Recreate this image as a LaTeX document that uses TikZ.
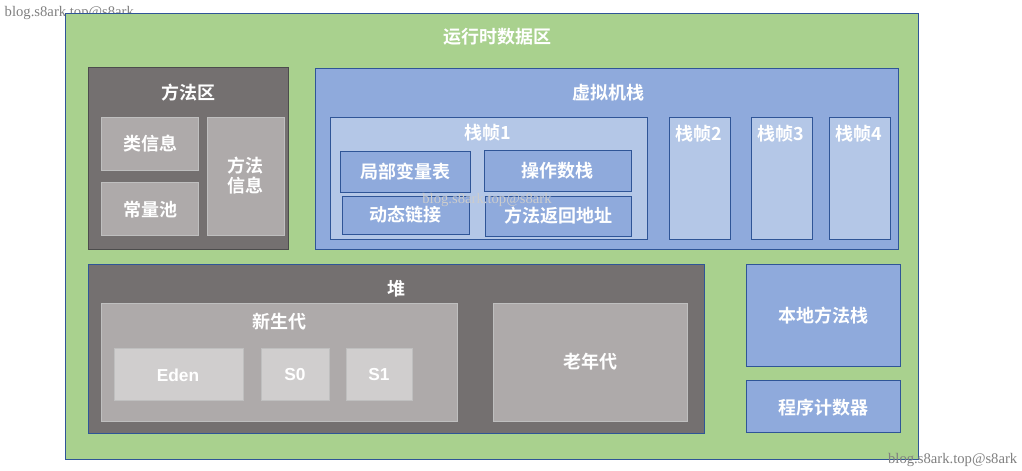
\documentclass[tikz,border=0pt]{standalone}
\usepackage{fontspec}
\setmainfont{Liberation Serif}
\newfontfamily\cjk{Noto Sans CJK SC}[BoldFont={* Bold}]
\newfontfamily\lat{Liberation Sans}
\definecolor{grn}{HTML}{A9D18E}
\definecolor{dgr}{HTML}{747070}
\definecolor{mgr}{HTML}{AEAAAA}
\definecolor{lgr}{HTML}{D0CECE}
\definecolor{blu}{HTML}{8FAADC}
\definecolor{lbl}{HTML}{B4C7E7}
\definecolor{edg}{HTML}{2F5597}
\tikzset{
 bx/.style={draw=edg,line width=0.7pt},
 tl/.style={text=white,font=\cjk\bfseries\fontsize{13.5}{15}\selectfont},
 wm/.style={text=gray,font=\fontsize{11}{12}\selectfont}
}
\begin{document}
\begin{tikzpicture}[x=0.75pt,y=-0.75pt]
\useasboundingbox (0,0) rectangle (1022,471);
\fill[white] (0,0) rectangle (1022,471);
\node[wm,anchor=west] (w1) at (0,13) {blog.s8ark.top@s8ark};
\draw[bx,fill=grn] (65,13) rectangle (918,459);
\node[tl] (t0) at (497,37) {运行时数据区};
% method area
\draw[draw=black!70,fill=dgr] (88,67) rectangle (288,249);
\node[tl] (t1) at (188,93) {方法区};
\draw[draw=gray!50,fill=mgr] (101,117) rectangle (198,170);
\node[tl] (a1) at (150,144) {类信息};
\draw[draw=gray!50,fill=mgr] (101,182) rectangle (198,235);
\node[tl] (a2) at (150,210) {常量池};
\draw[draw=gray!50,fill=mgr] (207,117) rectangle (284,235);
\node[tl,align=center] (a3) at (245,176) {方法\\信息};
% VM stack
\draw[bx,fill=blu] (315,68) rectangle (898,249);
\node[tl] (t2) at (608,93) {虚拟机栈};
\draw[bx,fill=lbl] (330,117) rectangle (647,239);
\node[tl] (f1) at (488,133) {栈帧1};
\draw[bx,fill=blu] (340,151) rectangle (470,192);
\node[tl] (b1) at (405,172) {局部变量表};
\draw[bx,fill=blu] (484,150) rectangle (631,191);
\node[tl] (b2) at (557,171) {操作数栈};
\draw[bx,fill=blu] (342,196) rectangle (469,234);
\node[tl] (b3) at (405,215) {动态链接};
\draw[bx,fill=blu] (485,196) rectangle (631,236);
\node[tl] (b4) at (558,216) {方法返回地址};
\node[wm,text=gray!40] (w2) at (487,200) {blog.s8ark.top@s8ark};
\draw[bx,fill=lbl] (669,117) rectangle (730,239);
\node[tl] (f2) at (699,134) {栈帧2};
\draw[bx,fill=lbl] (751,117) rectangle (812,239);
\node[tl] (f3) at (781,134) {栈帧3};
\draw[bx,fill=lbl] (829,117) rectangle (890,239);
\node[tl] (f4) at (859,134) {栈帧4};
% heap
\draw[bx,fill=dgr] (88,264) rectangle (704,433);
\node[tl] (t3) at (396,289) {堆};
\draw[draw=gray!50,fill=mgr] (101,303) rectangle (457,421);
\node[tl] (y1) at (279,322) {新生代};
\draw[draw=gray!50,fill=lgr] (114,348) rectangle (243,400);
\node[text=white,font=\lat\bfseries\fontsize{13}{15}\selectfont] (e1) at (178,375) {Eden};
\draw[draw=gray!50,fill=lgr] (261,348) rectangle (329,400);
\node[text=white,font=\lat\bfseries\fontsize{13}{15}\selectfont] (e2) at (295,375) {S0};
\draw[draw=gray!50,fill=lgr] (346,348) rectangle (412,400);
\node[text=white,font=\lat\bfseries\fontsize{13}{15}\selectfont] (e3) at (379,375) {S1};
\draw[draw=gray!50,fill=mgr] (493,303) rectangle (687,421);
\node[tl] (o1) at (590,362) {老年代};
% native
\draw[bx,fill=blu] (746,264) rectangle (900,366);
\node[tl] (n1) at (823,316) {本地方法栈};
\draw[bx,fill=blu] (746,380) rectangle (900,432);
\node[tl] (n2) at (823,408) {程序计数器};
\node[wm,anchor=east] (w3) at (1022,460) {blog.s8ark.top@s8ark};
\end{tikzpicture}
\end{document}
